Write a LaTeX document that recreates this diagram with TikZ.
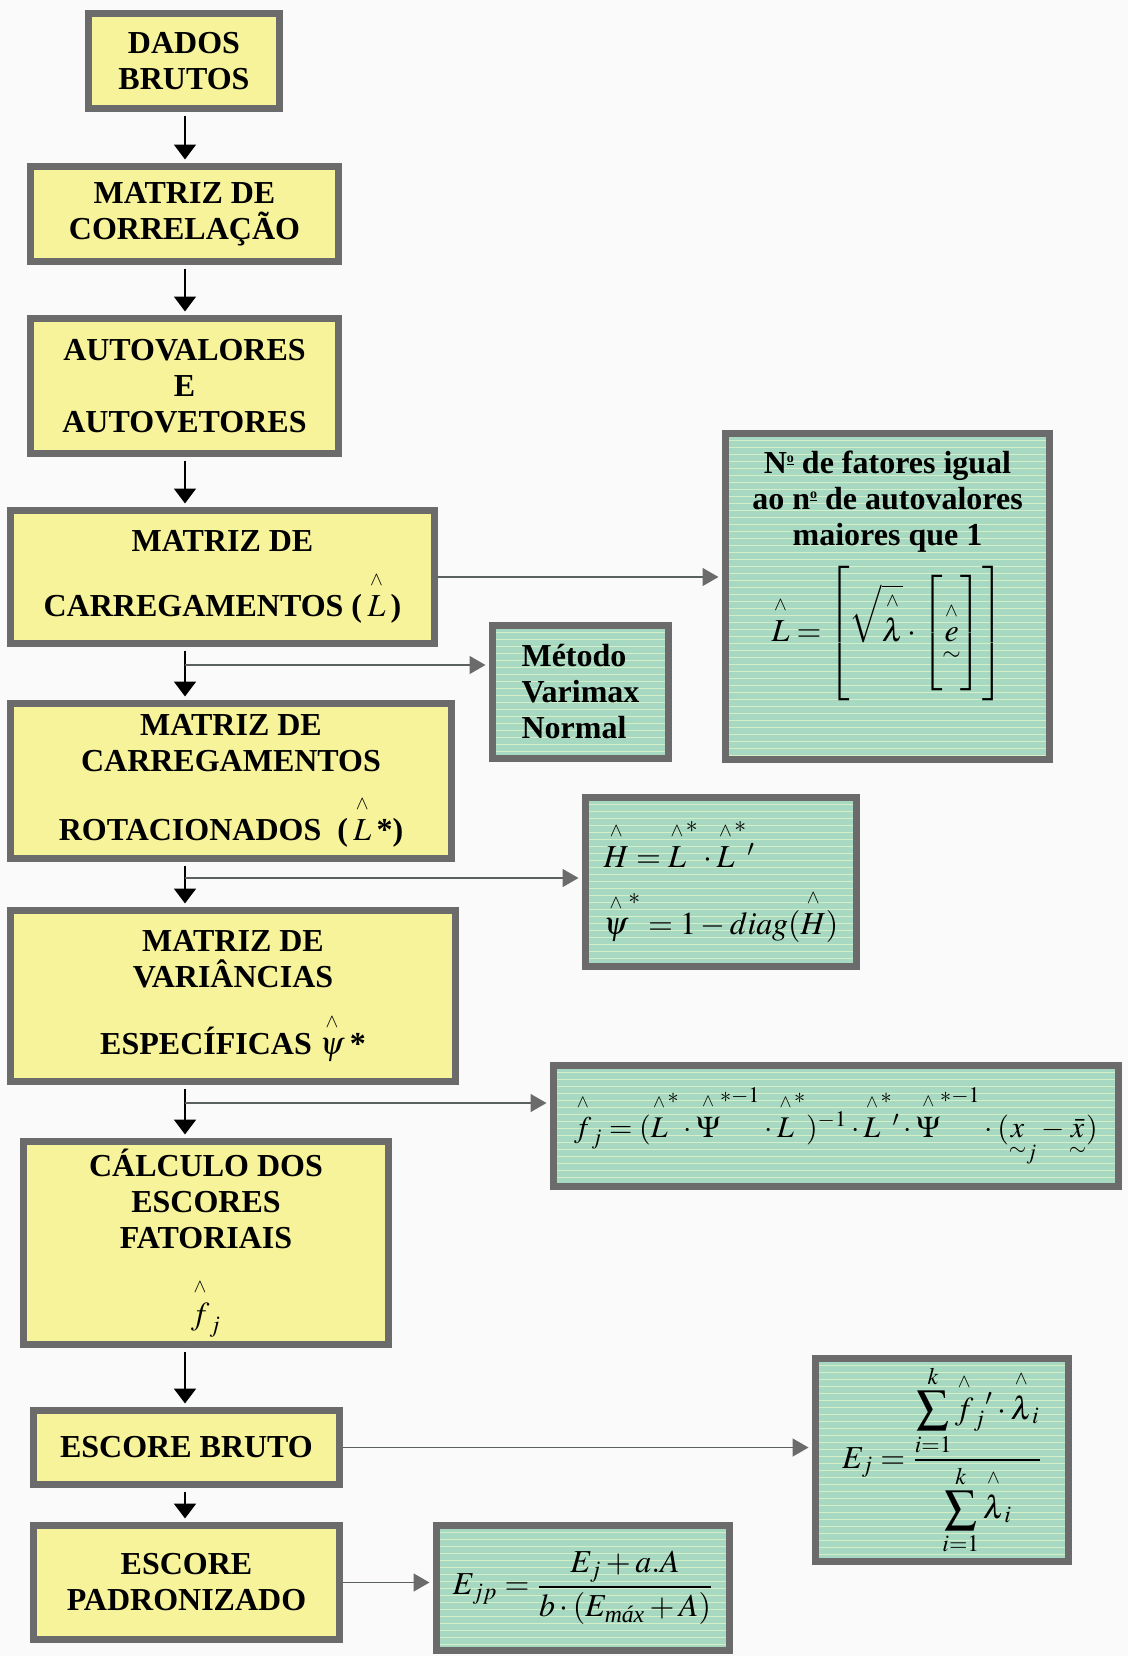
\documentclass[tikz,border=0pt]{standalone}
\usepackage{amsmath}
\usepackage{mathptmx}
\usepackage[no-math]{fontspec}
\setmainfont{Liberation Serif}
\usetikzlibrary{arrows.meta}
\definecolor{ybg}{HTML}{F7F39B}
\definecolor{gbg}{HTML}{A7D9C2}
\definecolor{gstr}{HTML}{D4EEC6}
\definecolor{bord}{HTML}{6B6B6B}
\definecolor{pagebg}{HTML}{FAFAFA}
\definecolor{sline}{HTML}{5A5F60}
\newcommand\myhat[1]{\overset{\raisebox{2pt}{$\scriptscriptstyle\wedge$}}{#1}}
\newcommand\numo{\raisebox{0.75ex}{\scriptsize\underline{o}}}
\begin{document}
\begin{tikzpicture}[x=0.5pt,y=-0.5pt,
  font=\fontsize{16}{18}\selectfont\bfseries,
  ybox/.style={draw=bord, line width=3.5pt, fill=ybg, align=center, inner sep=0pt},
  gbox/.style={draw=bord, line width=3.5pt, fill=gbg, inner sep=0pt,
    path picture={\foreach \k in {1,...,50}{\draw[gstr,line width=0.9pt]
      ([yshift=-\k*3.5pt]path picture bounding box.north west) --
      ([yshift=-\k*3.5pt]path picture bounding box.north east);}}},
  marr/.style={draw=black, line width=1pt, shorten <=1.75pt, shorten >=1.75pt,
    -{Triangle[length=7.5pt,width=11pt]}},
  sarr/.style={draw=sline, line width=0.8pt, shorten >=1.75pt,
    -{Triangle[length=8pt,width=9pt,color=bord]}}]
\fill[pagebg] (0,0) rectangle (1128,1656);
\useasboundingbox (0,0) rectangle (1128,1656);

% main column
\node[ybox, minimum width=95.5pt, minimum height=47.5pt] (b1) at (184,61) {DADOS\\BRUTOS};
\node[ybox, minimum width=154pt, minimum height=47.5pt] (b2) at (184.5,214) {MATRIZ DE\\CORRELAÇÃO};
\node[ybox, minimum width=154pt, minimum height=67.5pt] (b3) at (184.5,386) {AUTOVALORES\\E\\AUTOVETORES};
\node[ybox, minimum width=212pt, minimum height=66.5pt] (b4) at (222.5,577) {MATRIZ DE\\[9pt]CARREGAMENTOS (\,$\myhat{L}$\,)};
\node[ybox, minimum width=220.5pt, minimum height=77.5pt] (b5) at (231,781) {MATRIZ DE\\CARREGAMENTOS\\[11pt]ROTACIONADOS~~(\,$\myhat{L}$\,*)};
\node[ybox, minimum width=222.5pt, minimum height=85.5pt] (b6) at (233,996) {MATRIZ DE\\VARIÂNCIAS\\[12pt]ESPECÍFICAS $\myhat{\psi}$\,*};
\node[ybox, minimum width=182.5pt, minimum height=101.5pt] (b7) at (206,1243) {CÁLCULO DOS\\ESCORES\\FATORIAIS\\[14pt]$\myhat{f}_{j}$};
\node[ybox, minimum width=153pt, minimum height=37pt] (b8) at (186.5,1447.5) {ESCORE BRUTO};
\node[ybox, minimum width=153pt, minimum height=57pt] (b9) at (186.5,1582.5) {ESCORE\\PADRONIZADO};

% side boxes
\node[gbox, align=center, minimum width=162pt, minimum height=163pt] (g1) at (887.5,596.5)
  {N\numo{} de fatores igual\\ao n\numo{} de autovalores\\maiores que 1\\[6pt]%
   $\displaystyle\myhat{L} = \left[\rule[-29pt]{0pt}{63pt}\sqrt{\myhat{\lambda}}\cdot\left[\rule[-27pt]{0pt}{59pt}\underset{\sim}{\myhat{e}}\right]\right]$\\[20pt]\mbox{}};
\node[gbox, align=left, minimum width=88pt, minimum height=66.5pt] (g2) at (580.5,692) {Método\\Varimax\\Normal};
\node[gbox, align=left, minimum width=135.5pt, minimum height=84.5pt] (g3) at (721,882)
  {$\myhat{H} = \myhat{L}^{*}\cdot\myhat{L}^{*}{}'$\\[10pt]$\myhat{\psi}^{*} = 1-diag(\myhat{H})$};
\node[gbox, minimum width=282.5pt, minimum height=60.5pt, font=\fontsize{15}{18}\selectfont] (g4) at (836,1126)
  {$\myhat{f}_{j} = (\myhat{L}^{*}\cdot\myhat{\Psi}^{*-1}\cdot\myhat{L}^{*})^{-1}\cdot\myhat{L}^{*}{}'\cdot\myhat{\Psi}^{*-1}\cdot(\underset{\sim}{x}_{j}-\underset{\sim}{\bar{x}})$};
\node[gbox, minimum width=126.5pt, minimum height=101.5pt] (g5) at (942,1460)
  {$E_{j} = \dfrac{\displaystyle\sum_{i=1}^{k}\myhat{f}_{j}{}'\cdot\myhat{\lambda}_{i}}{\displaystyle\sum_{i=1}^{k}\myhat{\lambda}_{i}}$};
\node[gbox, minimum width=146.5pt, minimum height=62.5pt] (g6) at (583,1588)
  {$E_{jp} = \dfrac{E_{j} + a.A}{b\cdot(E_{\text{\mdseries\itshape máx}}+A)}$};

% spine and branch points
\coordinate (spine) at (185,0);
\coordinate (br1) at (185,665);
\coordinate (br2) at (185,878);
\coordinate (br3) at (185,1103);

\draw[marr] (b1.south -| spine) -- (b2.north -| spine);
\draw[marr] (b2.south -| spine) -- (b3.north -| spine);
\draw[marr] (b3.south -| spine) -- (b4.north -| spine);
\draw[marr] (b4.south -| spine) -- (b5.north -| spine);
\draw[marr] (b5.south -| spine) -- (b6.north -| spine);
\draw[marr] (b6.south -| spine) -- (b7.north -| spine);
\draw[marr] (b7.south -| spine) -- (b8.north -| spine);
\draw[marr] (b8.south -| spine) -- (b9.north -| spine);

\draw[sarr] (b4.east) -- (g1.west |- b4.east);
\draw[sarr] (br1) -- (g2.west |- br1);
\draw[sarr] (br2) -- (g3.west |- br2);
\draw[sarr] (br3) -- (g4.west |- br3);
\draw[sarr] (b8.east) -- (g5.west |- b8.east);
\draw[sarr] (b9.east) -- (g6.west |- b9.east);
\end{tikzpicture}
\end{document}
